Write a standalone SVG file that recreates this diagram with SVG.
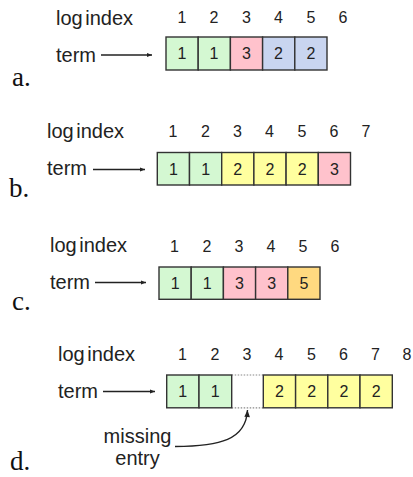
<svg xmlns="http://www.w3.org/2000/svg" width="413" height="477" viewBox="0 0 413 477">
<defs>
<style>
.lbl{font-family:"Liberation Sans",Arial,sans-serif;font-size:20px;fill:#222;word-spacing:-3px}
.num{font-family:"Liberation Sans",Arial,sans-serif;font-size:16px;fill:#222;text-anchor:middle}
.tag{font-family:"Liberation Serif","Times New Roman",serif;font-size:27px;fill:#111}
.cell{stroke:#333;stroke-width:1.4}
.g{fill:#d4f8d2}.p{fill:#ffc2cc}.b{fill:#c9d5f0}.y{fill:#ffff9f}.o{fill:#ffd980}
.arr{stroke:#222;stroke-width:1.4;fill:none}
</style>
<marker id="ah" viewBox="0 0 10 10" refX="10" refY="5" markerWidth="7" markerHeight="5" orient="auto" markerUnits="userSpaceOnUse"><path d="M0,1 L10,5 L0,9 Z" fill="#222"/></marker>
<marker id="ah2" viewBox="0 0 10 10" refX="10" refY="5" markerWidth="8" markerHeight="7" orient="auto" markerUnits="userSpaceOnUse"><path d="M0,1 L10,5 L0,9 Z" fill="#222"/></marker>
</defs>

<g id="connectors">
<line class="arr" x1="101" y1="55" x2="152" y2="55" marker-end="url(#ah)"/>
<line class="arr" x1="93" y1="169.5" x2="145" y2="169.5" marker-end="url(#ah)"/>
<line class="arr" x1="95" y1="282.5" x2="146" y2="282.5" marker-end="url(#ah)"/>
<line class="arr" x1="103" y1="391.5" x2="155" y2="391.5" marker-end="url(#ah)"/>
<path class="arr" d="M175,446.5 C220,446 246,440 247.5,410" marker-end="url(#ah2)"/>
</g>

<g id="panel-a">
<text class="tag" x="12" y="86">a.</text>
<text class="lbl" x="56" y="25">log index</text>
<text class="lbl" x="56" y="62">term</text>
<g class="num">
<text x="182" y="23">1</text><text x="214" y="23">2</text><text x="246.5" y="23">3</text><text x="278.5" y="23">4</text><text x="311" y="23">5</text><text x="343" y="23">6</text>
</g>
<rect class="cell g" x="166" y="37" width="32.2" height="33"/>
<rect class="cell g" x="198.2" y="37" width="32.2" height="33"/>
<rect class="cell p" x="230.4" y="37" width="32.2" height="33"/>
<rect class="cell b" x="262.6" y="37" width="32.2" height="33"/>
<rect class="cell b" x="294.8" y="37" width="32.2" height="33"/>
<g class="num">
<text x="182" y="59">1</text><text x="214" y="59">1</text><text x="246.5" y="59">3</text><text x="278.5" y="59">2</text><text x="311" y="59">2</text>
</g>
</g>

<g id="panel-b">
<text class="tag" x="9" y="197">b.</text>
<text class="lbl" x="47" y="138">log index</text>
<text class="lbl" x="47" y="175">term</text>
<g class="num">
<text x="173" y="137">1</text><text x="205.5" y="137">2</text><text x="237.5" y="137">3</text><text x="269.5" y="137">4</text><text x="302" y="137">5</text><text x="334" y="137">6</text><text x="366" y="137">7</text>
</g>
<rect class="cell g" x="157.3" y="152.5" width="32.2" height="32.5"/>
<rect class="cell g" x="189.5" y="152.5" width="32.2" height="32.5"/>
<rect class="cell y" x="221.7" y="152.5" width="32.2" height="32.5"/>
<rect class="cell y" x="253.9" y="152.5" width="32.2" height="32.5"/>
<rect class="cell y" x="286.1" y="152.5" width="32.2" height="32.5"/>
<rect class="cell p" x="318.3" y="152.5" width="32.2" height="32.5"/>
<g class="num">
<text x="173.4" y="174.5">1</text><text x="205.6" y="174.5">1</text><text x="237.8" y="174.5">2</text><text x="270" y="174.5">2</text><text x="302.2" y="174.5">2</text><text x="334.4" y="174.5">3</text>
</g>
</g>

<g id="panel-c">
<text class="tag" x="12" y="310">c.</text>
<text class="lbl" x="50" y="252">log index</text>
<text class="lbl" x="50" y="288.5">term</text>
<g class="num">
<text x="174.5" y="252">1</text><text x="207" y="252">2</text><text x="239" y="252">3</text><text x="271" y="252">4</text><text x="303" y="252">5</text><text x="335" y="252">6</text>
</g>
<rect class="cell g" x="159" y="267" width="32.2" height="32.3"/>
<rect class="cell g" x="191.2" y="267" width="32.2" height="32.3"/>
<rect class="cell p" x="223.4" y="267" width="32.2" height="32.3"/>
<rect class="cell p" x="255.6" y="267" width="32.2" height="32.3"/>
<rect class="cell o" x="287.8" y="267" width="32.2" height="32.3"/>
<g class="num">
<text x="175.1" y="288.8">1</text><text x="207.3" y="288.8">1</text><text x="239.5" y="288.8">3</text><text x="271.7" y="288.8">3</text><text x="303.9" y="288.8">5</text>
</g>
</g>

<g id="panel-d">
<text class="tag" x="10" y="470">d.</text>
<text class="lbl" x="58" y="361">log index</text>
<text class="lbl" x="58" y="398">term</text>
<g class="num">
<text x="182.5" y="360">1</text><text x="215" y="360">2</text><text x="247" y="360">3</text><text x="279" y="360">4</text><text x="311.5" y="360">5</text><text x="343.5" y="360">6</text><text x="375.5" y="360">7</text><text x="407" y="360">8</text>
</g>
<line x1="231.7" y1="375" x2="263.3" y2="375" stroke="#888" stroke-width="1.2" stroke-dasharray="1.5,1.5"/>
<line x1="231.7" y1="407.8" x2="263.3" y2="407.8" stroke="#888" stroke-width="1.2" stroke-dasharray="1.5,1.5"/>
<rect class="cell g" x="166.7" y="375" width="32.3" height="32.8"/>
<rect class="cell g" x="199" y="375" width="32.7" height="32.8"/>
<rect class="cell y" x="263.3" y="375" width="32.3" height="32.8"/>
<rect class="cell y" x="295.6" y="375" width="32.2" height="32.8"/>
<rect class="cell y" x="327.8" y="375" width="32.2" height="32.8"/>
<rect class="cell y" x="360" y="375" width="32.3" height="32.8"/>
<g class="num">
<text x="182.8" y="397">1</text><text x="215.3" y="397">1</text><text x="279.4" y="397">2</text><text x="311.7" y="397">2</text><text x="343.9" y="397">2</text><text x="376.1" y="397">2</text>
</g>
<text class="lbl" x="137.5" y="443" text-anchor="middle">missing</text>
<text class="lbl" x="137.5" y="465" text-anchor="middle">entry</text>
</g>
</svg>
